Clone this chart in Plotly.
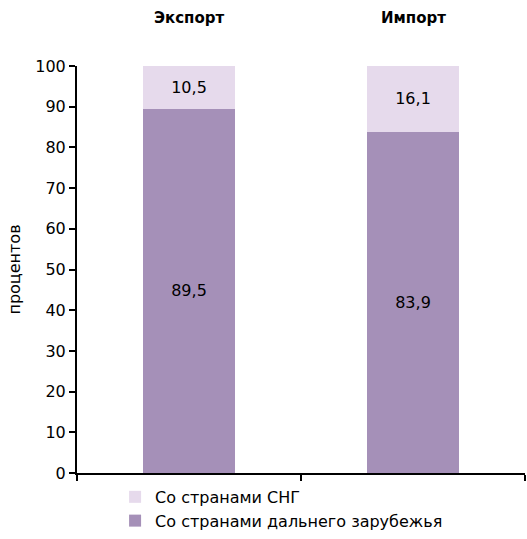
import plotly.graph_objects as go

categories = ["Экспорт", "Импорт"]
far_abroad = [89.5, 83.9]
cis = [10.5, 16.1]
far_labels = ["89,5", "83,9"]
cis_labels = ["10,5", "16,1"]
y_ticks = [0, 10, 20, 30, 40, 50, 60, 70, 80, 90, 100]

FONT = "DejaVu Sans, Arial, sans-serif"

fig = go.Figure()
fig.add_trace(go.Bar(
    x=categories, y=far_abroad, text=far_labels, name="Со странами дальнего зарубежья",
    marker=dict(color="#A590B8", line=dict(width=0)),
    textposition="inside", insidetextanchor="middle", textangle=0,
    textfont=dict(color="black", size=16),
))
fig.add_trace(go.Bar(
    x=categories, y=cis, text=cis_labels, name="Со странами СНГ",
    marker=dict(color="#E6DAEC", line=dict(width=0)),
    textposition="inside", insidetextanchor="middle", textangle=0,
    textfont=dict(color="black", size=16),
))

for i, c in enumerate(categories):
    fig.add_annotation(x=c, y=1, xref="x", yref="paper", yanchor="bottom", yshift=37,
                       text="<b>" + c + "</b>", showarrow=False,
                       font=dict(size=15, color="black"))

fig.update_layout(
    barmode="stack", bargap=0.59,
    width=527, height=580,
    margin=dict(l=77, r=2, t=66, b=107),
    paper_bgcolor="white", plot_bgcolor="white",
    font=dict(family=FONT, size=16, color="black"),
    showlegend=True,
    legend=dict(orientation="v", x=0.085, y=-0.017, xanchor="left", yanchor="top",
                font=dict(size=16), itemwidth=30, tracegroupgap=0,
                traceorder="reversed", bgcolor="rgba(0,0,0,0)"),
    uniformtext=dict(mode="show", minsize=10),
)
fig.update_xaxes(showticklabels=False, ticks="outside", tickson="boundaries",
                 ticklen=6, tickwidth=2, tickcolor="black",
                 showline=True, linecolor="black", linewidth=2,
                 range=[-0.5, 1.5], showgrid=False, automargin=False)
fig.update_yaxes(range=[0, 100], tickvals=y_ticks, ticks="outside", ticklen=6,
                 tickwidth=2, tickcolor="black",
                 showline=True, linecolor="black", linewidth=2, showgrid=False,
                 zeroline=False, tickfont=dict(size=16), automargin=False,
                 title=dict(text="процентов", font=dict(size=16), standoff=11))

fig.write_html("out.html", config={"displayModeBar": False},
               post_script="document.body.style.margin='0';document.body.style.overflow='hidden';")
